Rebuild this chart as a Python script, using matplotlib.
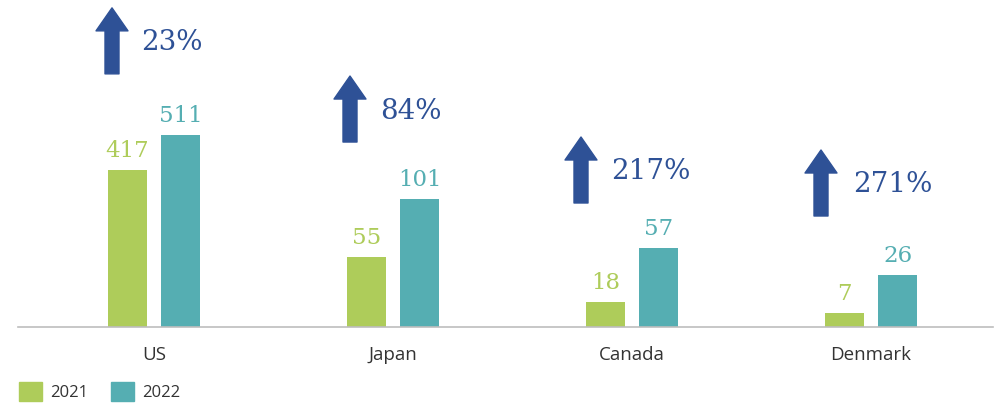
import matplotlib
matplotlib.use("Agg")
import matplotlib.pyplot as plt
from matplotlib.patches import FancyArrow, Patch
from matplotlib.transforms import IdentityTransform

countries = ["US", "Japan", "Canada", "Denmark"]
vals_2021 = [417, 55, 18, 7]
vals_2022 = [511, 101, 57, 26]
growth = ["23%", "84%", "217%", "271%"]
# the original chart scales every country on its own
group_scale = [0.376, 1.267, 1.386, 2.0]

green = "#AECC5A"
teal = "#55AEB2"
navy = "#2E5196"
num_font = "DejaVu Serif"

W, H = 995, 403
fig = plt.figure(figsize=(W / 100, H / 100), dpi=100)
base_px = 76
ax = fig.add_axes([0, base_px / H, 1, 1 - base_px / H])

x = list(range(len(countries)))
bw = 0.163
off = 0.112
h21 = [v * s for v, s in zip(vals_2021, group_scale)]
h22 = [v * s for v, s in zip(vals_2022, group_scale)]
ax.bar([i - off for i in x], h21, width=bw, color=green)
ax.bar([i + off for i in x], h22, width=bw, color=teal)

ax.set_xlim(-154 / 239, (W - 154) / 239)
ax.set_ylim(0, H - base_px)

for i in x:
    ax.annotate(str(vals_2021[i]), (i - off, h21[i]), xytext=(0, 6), textcoords="offset points",
                ha="center", va="bottom", fontsize=16.5, color=green, family=num_font)
    ax.annotate(str(vals_2022[i]), (i + off, h22[i]), xytext=(0, 6), textcoords="offset points",
                ha="center", va="bottom", fontsize=16.5, color=teal, family=num_font)

# arrows + growth labels (layout only)
arrow_gap = [61, 57, 45, 59]
arrow_dx = [-42, -43, -51, -50]
text_dx = [-13, -13, -21, -18]
fig.canvas.draw()
for i in x:
    px, py = ax.transData.transform((i, h22[i]))
    y0 = py + arrow_gap[i]
    ax0 = px + arrow_dx[i]
    arr = FancyArrow(ax0, y0, 0, 66, width=14, head_width=32, head_length=23,
                     length_includes_head=True, color=navy, transform=IdentityTransform(),
                     joinstyle="round")
    fig.add_artist(arr)
    fig.text(px + text_dx[i], y0 + 31, growth[i], transform=IdentityTransform(),
             ha="left", va="center", fontsize=20, color=navy, family=num_font)

ax.axhline(0, xmin=18 / W, xmax=993 / W, color="#BDBDBD", lw=1.2, clip_on=False)
for s in ax.spines.values():
    s.set_visible(False)
ax.set_yticks([])
ax.set_xticks(x)
ax.set_xticklabels(countries, fontsize=13.5, color="#333333", family="Open Sans")
ax.tick_params(axis="x", length=0, pad=14)

handles = [Patch(color=green, label="2021"), Patch(color=teal, label="2022")]
leg = fig.legend(handles=handles, loc="lower left", bbox_to_anchor=(4 / W, -13 / H), ncol=2,
                 frameon=False, fontsize=12, handlelength=1.35, handleheight=1.35,
                 handletextpad=0.5, columnspacing=1.4)
for t in leg.get_texts():
    t.set_color("#333333")
    t.set_family("Open Sans")

fig.savefig("out.png", dpi=100)
